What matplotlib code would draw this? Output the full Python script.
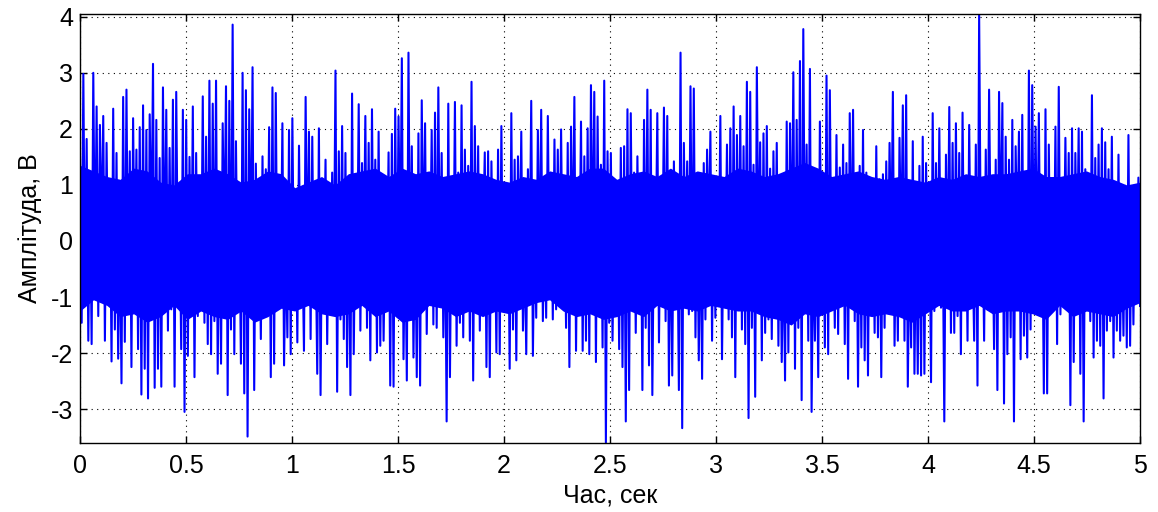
import numpy as np
import matplotlib
matplotlib.use("Agg")
import matplotlib.pyplot as plt

plt.rcParams['font.family'] = ['Liberation Sans', 'DejaVu Sans']
plt.rcParams['axes.unicode_minus'] = False

# Upper and lower swings of the signal, 40 per 0.625 s block
upper_peaks = [
    1.5, 2.98, 1.82, 1.1, 3.0, 2.4, 2.07, 2.23, 1.75, 1.1, 2.36, 1.57, 0.4, 2.57, 2.7, 1.6, 2.19, 1.63, 2.03, 2.42,
    1.98, 2.26, 3.16, 2.16, 1.48, 2.74, 2.34, 1.66, 2.52, 2.66, 0.6, 2.34, 2.16, 1.5, 2.4, 1.57, 0.5, 2.58, 1.86, 2.86,
    2.45, 2.86, 1.22, 2.1, 2.76, 2.5, 3.86, 1.78, 0.66, 3.0, 2.69, 2.35, 3.1, 1.38, 0.6, 1.51, 1.28, 2.03, 2.74, 2.64,
    1.01, 2.1, 0.04, 1.98, 2.19, 0.89, 1.7, 0.04, 2.57, 1.95, 1.86, 0.16, 2.01, 1.04, 1.45, 0.52, 1.22, 3.04, 1.6, 2.05,
    1.57, 1.04, 2.63, 0.6, 2.44, 1.39, 2.23, 1.75, 2.35, 1.45, 1.95, 0.84, 0.34, 1.58, 1.91, 2.36, 2.22, 3.26, 0.39, 3.36,
    1.69, 0.57, 1.92, 2.51, 2.1, 0.69, 1.98, 2.29, 2.74, 1.57, 0.63, 2.45, 0.98, 2.48, 1.22, 2.42, 1.63, 1.34, 2.84, 2.05,
    1.69, 1.16, 1.58, 1.6, 1.42, 0.63, 1.63, 2.05, 0.54, 0.84, 2.28, 1.45, 1.51, 1.95, -0.02, 1.28, 2.5, 0.48, 1.98, 2.34,
    0.51, 2.23, 1.16, 1.81, 1.63, 1.99, 0.63, 1.75, 2.04, 2.57, 1.01, 2.13, 1.51, 2.01, 2.78, 2.66, 2.22, 1.36, 2.86, 1.6,
    1.57, 0.54, 0.89, 1.66, 1.69, 2.35, 2.28, 1.22, 1.51, 1.1, 2.16, 2.7, 2.34, 0.45, 2.28, 0.92, 2.38, 2.23, 0.63, 1.42,
    0.57, 3.36, 1.75, 1.42, 2.76, 2.72, 1.16, 0.66, 1.39, 1.63, 1.95, 1.07, 0.81, 2.23, 0.63, 1.72, 2.01, 2.4, 1.89, 2.23,
    1.69, 2.84, 2.66, 1.36, 3.1, 1.76, 1.92, 2.05, 1.29, 1.6, 1.75, 1.04, 0.1, 2.13, 2.1, 3.01, 2.16, 3.21, 3.78, 1.72,
    3.07, 0.04, 0.72, 2.13, 1.04, 2.95, 2.69, 0.19, 1.89, 1.31, 1.72, 1.39, 2.28, 2.34, 1.01, 1.34, 1.98, 1.22, 1.1, 0.54,
    1.69, 1.1, 1.19, 1.42, 1.75, 2.66, 0.42, 1.84, 2.42, 2.6, 0.13, 1.78, 0.36, 1.34, 1.86, 1.39, 0.88, 2.28, 1.39, 2.01,
    0.36, 1.54, 2.39, 1.75, 2.1, 1.57, 2.29, 0.92, 2.07, -0.08, 1.72, 4.05, 0.63, 1.63, 2.7, 0.57, 1.45, 2.66, 2.46, 1.86,
    1.45, 2.16, 1.69, 1.95, 2.25, 0.57, 3.04, 2.78, 2.04, 2.28, 0.66, 2.35, 1.72, 0.84, 2.04, 2.75, 0.66, 1.84, 1.57, 2.01,
    1.57, 2.01, 1.95, 1.28, 0.51, 2.6, 1.48, 1.72, 2.01, 1.76, 1.28, 1.86, 0.98, 1.54, 0.19, 0.98, 1.89, 0.78, 0.86, 1.13,
]

lower_peaks = [
    -1.46, -1.02, -1.78, -1.84, -0.66, -1.34, -0.08, -1.78, -0.75, -2.15, -1.58, -2.1, -2.54, -1.8, -1.16, -2.25, -0.87, -1.93, -2.74, -2.28,
    -2.81, -0.19, -2.62, -2.28, -2.6, -0.78, -1.6, -1.22, -2.6, -0.6, -1.93, -3.05, -2.05, -1.22, -2.43, -1.34, -1.02, -1.46, -1.84, -2.02,
    -1.43, -2.37, -2.19, -0.22, -2.75, -1.58, -2.02, -0.96, -2.19, -2.72, -3.49, -0.72, -2.66, -1.37, -1.75, -1.02, -0.78, -2.43, -2.19, -1.16,
    -0.72, -2.22, -1.72, -2.02, -0.87, -1.81, -1.08, -1.96, -0.75, -1.75, -1.1, -2.37, -2.75, -0.55, -1.84, -1.19, -0.78, -2.69, -1.4, -1.75,
    -2.25, -2.75, -2.02, -0.72, -1.6, -0.6, -1.55, -2.13, -1.05, -1.99, -1.87, -1.78, -0.72, -2.58, -2.6, -1.22, -0.37, -2.11, -2.49, -1.08,
    -2.08, -2.43, -2.58, -0.46, -1.66, -0.55, -1.49, -1.55, -0.9, -1.72, -3.22, -2.43, -1.08, -1.87, -1.46, -1.72, -1.22, -1.78, -2.49, -1.08,
    -1.6, 0.1, -2.25, -2.43, -0.72, -1.99, -2.02, -1.19, -0.69, -2.28, -1.58, -2.13, -0.46, -1.6, -2.02, -0.55, -2.05, -1.37, -0.66, -1.43,
    -1.37, -0.6, -1.4, -1.22, -0.9, -0.96, -1.55, -2.25, -0.52, -1.96, -0.81, -1.96, -1.78, -2.02, -0.64, -2.16, -1.31, -1.9, -3.6, -1.46,
    -1.78, -0.78, -1.93, -2.25, -3.22, -2.66, -1.14, -1.64, -0.9, -2.66, -1.55, -2.22, -2.75, -0.43, -1.81, -0.6, -1.43, -2.58, -2.4, -1.1,
    -2.66, -3.34, -0.52, -1.31, -1.25, -1.72, -2.13, -2.46, -1.4, -0.08, -1.78, -1.37, -0.81, -2.11, -0.52, -1.4, -1.72, -2.43, -1.16, -1.58,
    -1.84, -3.16, -1.55, -2.78, -0.52, -2.13, -1.64, -1.4, -1.75, -0.9, -1.87, -2.16, -2.49, -1.99, -0.6, -2.28, -1.55, -2.84, -0.96, -1.78,
    -3.05, -1.78, -2.43, -0.55, -1.9, -2.02, -0.84, -1.55, -1.66, -1.08, -1.84, -2.46, -0.75, -1.43, -2.6, -1.9, -2.13, -2.4, -0.93, -1.64,
    -1.72, -2.43, -1.55, -0.9, -0.34, -1.87, -1.78, -0.37, -1.78, -2.6, -1.9, -2.37, -2.37, -2.4, -2.37, -0.75, -2.52, -1.25, -1.02, -1.19,
    -3.22, -0.75, -1.64, -1.64, -1.34, -2.02, -0.81, -1.78, -0.78, -1.78, -2.58, -0.22, -1.78, -1.22, -0.14, -1.93, -2.66, -0.28, -2.9, -2.02,
    -1.72, -3.22, -0.19, -2.11, -1.69, -2.08, -1.58, -0.49, -0.55, -1.08, -2.72, -2.72, -1.16, -1.1, -1.84, -1.31, -0.75, -0.78, -2.93, -2.16,
    -0.69, -2.37, -3.22, -1.22, -1.43, -2.08, -1.78, -1.87, -2.81, -1.6, -1.43, -2.08, -1.6, -1.78, -1.69, -1.9, -1.87, -1.49, -0.72, -1.16,
]

# edges of the dense (solid) part of the trace, one value every 1/16 s
core_top = [
    1.35, 1.25, 1.15, 1.1, 1.3, 1.25, 1.05, 1.0, 1.2, 1.2,
    1.3, 1.2, 1.05, 1.1, 1.25, 1.2, 0.95, 1.05, 1.15, 1.0,
    1.2, 1.25, 1.3, 1.15, 1.3, 1.2, 1.25, 1.15, 1.2, 1.25,
    1.2, 1.1, 1.05, 1.15, 1.1, 1.25, 1.2, 1.15, 1.3, 1.3,
    1.1, 1.2, 1.25, 1.15, 1.3, 1.15, 1.25, 1.2, 1.15, 1.3,
    1.25, 1.15, 1.2, 1.3, 1.4, 1.3, 1.15, 1.2, 1.25, 1.15,
    1.1, 1.15, 1.1, 1.05, 1.15, 1.1, 1.2, 1.15, 1.2, 1.2,
    1.25, 1.3, 1.15, 1.15, 1.2, 1.25, 1.15, 1.1, 1.0, 1.05,
]
core_bottom = [
    -1.25, -1.05, -1.15, -1.35, -1.3, -1.45, -1.35, -1.15, -1.4, -1.25,
    -1.35, -1.4, -1.25, -1.45, -1.35, -1.2, -1.25, -1.15, -1.3, -1.35,
    -1.3, -1.15, -1.35, -1.25, -1.45, -1.4, -1.15, -1.2, -1.35, -1.25,
    -1.35, -1.25, -1.3, -1.2, -1.1, -1.05, -1.25, -1.35, -1.3, -1.4,
    -1.35, -1.25, -1.35, -1.15, -1.25, -1.2, -1.25, -1.15, -1.2, -1.25,
    -1.25, -1.35, -1.4, -1.5, -1.3, -1.35, -1.25, -1.15, -1.3, -1.35,
    -1.3, -1.35, -1.45, -1.3, -1.15, -1.25, -1.25, -1.15, -1.3, -1.25,
    -1.25, -1.3, -1.4, -1.15, -1.35, -1.25, -1.3, -1.35, -1.2, -1.1,
]

x_ticks = [0, 0.5, 1, 1.5, 2, 2.5, 3, 3.5, 4, 4.5, 5]
x_tick_labels = ["0", "0.5", "1", "1.5", "2", "2.5", "3", "3.5", "4", "4.5", "5"]
y_ticks = [-3, -2, -1, 0, 1, 2, 3, 4]
duration = 5.0

signal = np.empty(len(upper_peaks) + len(lower_peaks))
signal[0::2] = upper_peaks
signal[1::2] = lower_peaks
t = np.linspace(0, duration, len(signal))
t_core = np.linspace(0, duration, len(core_top))

fig = plt.figure(figsize=(11.58, 5.12), dpi=100)
ax = fig.add_axes([0.0691, 0.1353, 0.9154, 0.8374])

blue = (0, 0, 1)
ax.fill_between(t_core, core_bottom, core_top, color=blue, linewidth=0)
ax.plot(t, signal, color=blue, linewidth=1.5)

ax.set_xlim(0, duration)
ax.set_ylim(min(lower_peaks), max(upper_peaks))
ax.set_xticks(x_ticks)
ax.set_xticklabels(x_tick_labels)
ax.set_yticks(y_ticks)

ax.grid(True, color='black', linestyle=(0, (1, 4)), linewidth=0.8)
ax.set_axisbelow(True)
ax.tick_params(direction='in', length=5, width=1, top=True, right=True, labelsize=18)
ax.tick_params(axis='x', pad=8)
ax.tick_params(axis='y', pad=5)
for s in ax.spines.values():
    s.set_linewidth(1.0)

ax.set_xlabel("Час, сек", fontsize=18, labelpad=4)
ax.set_ylabel("Амплітуда, В", fontsize=18, labelpad=6)

fig.savefig("out.png", dpi=100, facecolor='white')
